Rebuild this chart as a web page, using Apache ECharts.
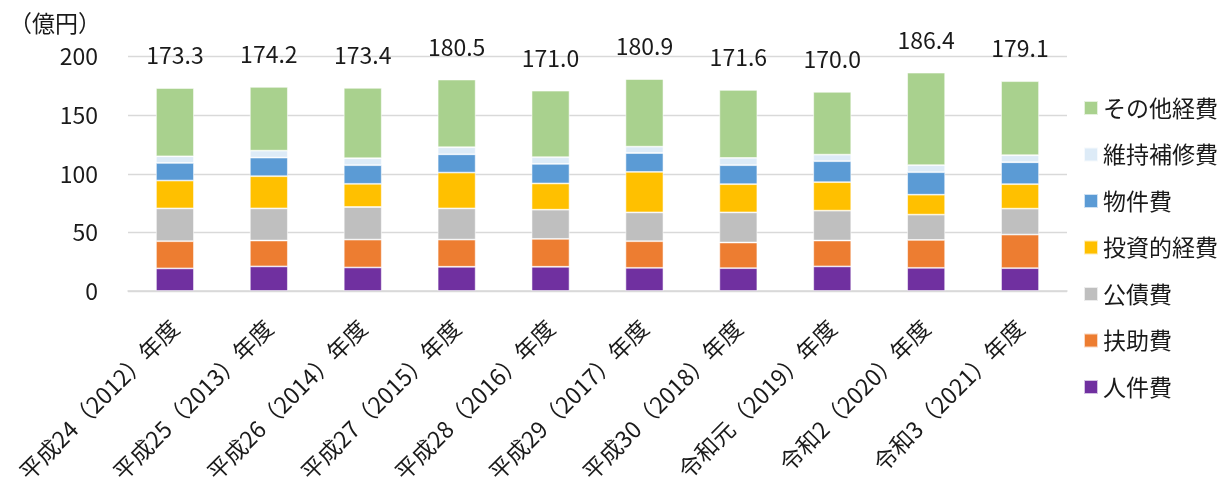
<!DOCTYPE html>
<html lang="ja">
<head>
<meta charset="utf-8">
<script src="https://cdn.jsdelivr.net/npm/echarts@6/dist/echarts.min.js"></script>
<style>
  html, body { margin: 0; padding: 0; background: #ffffff; }
  #chart { width: 1230px; height: 486px; }
</style>
</head>
<body>
<div id="chart"></div>
<script>
// Fiscal years
const categories = [
  '平成24（2012）年度', '平成25（2013）年度', '平成26（2014）年度', '平成27（2015）年度',
  '平成28（2016）年度', '平成29（2017）年度', '平成30（2018）年度', '令和元（2019）年度',
  '令和2（2020）年度', '令和3（2021）年度'
];

// Expenditure by type (億円), stacked from the bottom up
const jinkenhi   = [19.3, 21.0, 20.1, 20.7, 20.7, 19.8, 19.5, 21.0, 19.8, 19.5]; // 人件費
const fujohi     = [23.2, 22.1, 23.8, 23.2, 23.8, 22.7, 21.9, 22.1, 23.8, 28.7]; // 扶助費
const kosaihi    = [28.0, 27.4, 27.8, 26.6, 24.9, 24.6, 25.7, 25.5, 21.6, 22.1]; // 公債費
const toshiteki  = [23.8, 27.5, 19.8, 30.6, 22.4, 34.6, 24.1, 24.3, 17.0, 20.9]; // 投資的経費
const bukkenhi   = [15.0, 15.9, 15.9, 15.6, 16.7, 16.1, 16.2, 17.9, 19.2, 18.7]; // 物件費
const ijihoshu   = [5.7, 5.9, 5.9, 6.0, 5.7, 5.4, 6.2, 5.6, 6.0, 6.0];           // 維持補修費
const sonota     = [58.3, 54.4, 60.1, 57.8, 56.8, 57.7, 58.0, 53.6, 79.0, 63.2]; // その他経費

const yTicks = [0, 50, 100, 150, 200];

const seriesDefs = [
  { name: '人件費',     data: jinkenhi,  color: '#7030A0' },
  { name: '扶助費',     data: fujohi,    color: '#ED7D31' },
  { name: '公債費',     data: kosaihi,   color: '#BFBFBF' },
  { name: '投資的経費', data: toshiteki, color: '#FFC000' },
  { name: '物件費',     data: bukkenhi,  color: '#5B9BD5' },
  { name: '維持補修費', data: ijihoshu,  color: '#DDEBF7' },
  { name: 'その他経費', data: sonota,    color: '#A9D18E' }
];

// Column totals shown above each stack
const totals = categories.map((_, i) =>
  seriesDefs.reduce((s, d) => s + d.data[i], 0));

const FONT = '"Noto Sans CJK JP", "Noto Sans", sans-serif';
const TEXT = '#1a1a1a';

const chart = echarts.init(document.getElementById('chart'), null, { renderer: 'canvas' });

const series = seriesDefs.map((d, idx) => {
  const s = {
    name: d.name,
    type: 'bar',
    stack: 'total',
    barWidth: 38,
    data: d.data,
    itemStyle: { color: d.color, borderColor: 'rgba(255,255,255,0.7)', borderWidth: 0.8 },
    emphasis: { disabled: true }
  };
  if (idx === seriesDefs.length - 1) {
    s.label = {
      show: true,
      position: 'top',
      distance: 21,
      fontFamily: FONT,
      fontSize: 23,
      color: TEXT,
      formatter: p => totals[p.dataIndex].toFixed(1)
    };
  }
  return s;
});

chart.setOption({
  animation: false,
  textStyle: { fontFamily: FONT },
  grid: { left: 128, right: 163, top: 56.7, bottom: 193.7, containLabel: false },
  graphic: [{
    type: 'text',
    left: 9,
    top: 12,
    style: { text: '（億円）', fontFamily: FONT, fontSize: 23, fill: TEXT }
  }],
  legend: {
    orient: 'vertical',
    left: 1083,
    top: 96,
    padding: 0,
    itemWidth: 14,
    itemHeight: 14,
    itemGap: 22.5,
    icon: 'rect',
    textStyle: { fontFamily: FONT, fontSize: 23, color: TEXT, lineHeight: 24 },
    data: seriesDefs.map(d => d.name).reverse()
  },
  xAxis: {
    type: 'category',
    data: categories,
    axisLine: { show: true, lineStyle: { color: '#D9D9D9', width: 1.5 } },
    axisTick: { show: false },
    axisLabel: {
      interval: 0,
      rotate: 45,
      margin: 33,
      fontFamily: FONT,
      fontSize: 23,
      color: TEXT
    }
  },
  yAxis: {
    type: 'value',
    min: yTicks[0],
    max: yTicks[yTicks.length - 1],
    interval: 50,
    axisLine: { show: false },
    axisTick: { show: false },
    splitLine: { lineStyle: { color: '#D9D9D9', width: 1.3 } },
    axisLabel: { margin: 30, fontFamily: FONT, fontSize: 23, color: TEXT }
  },
  series: series
});
</script>
</body>
</html>
